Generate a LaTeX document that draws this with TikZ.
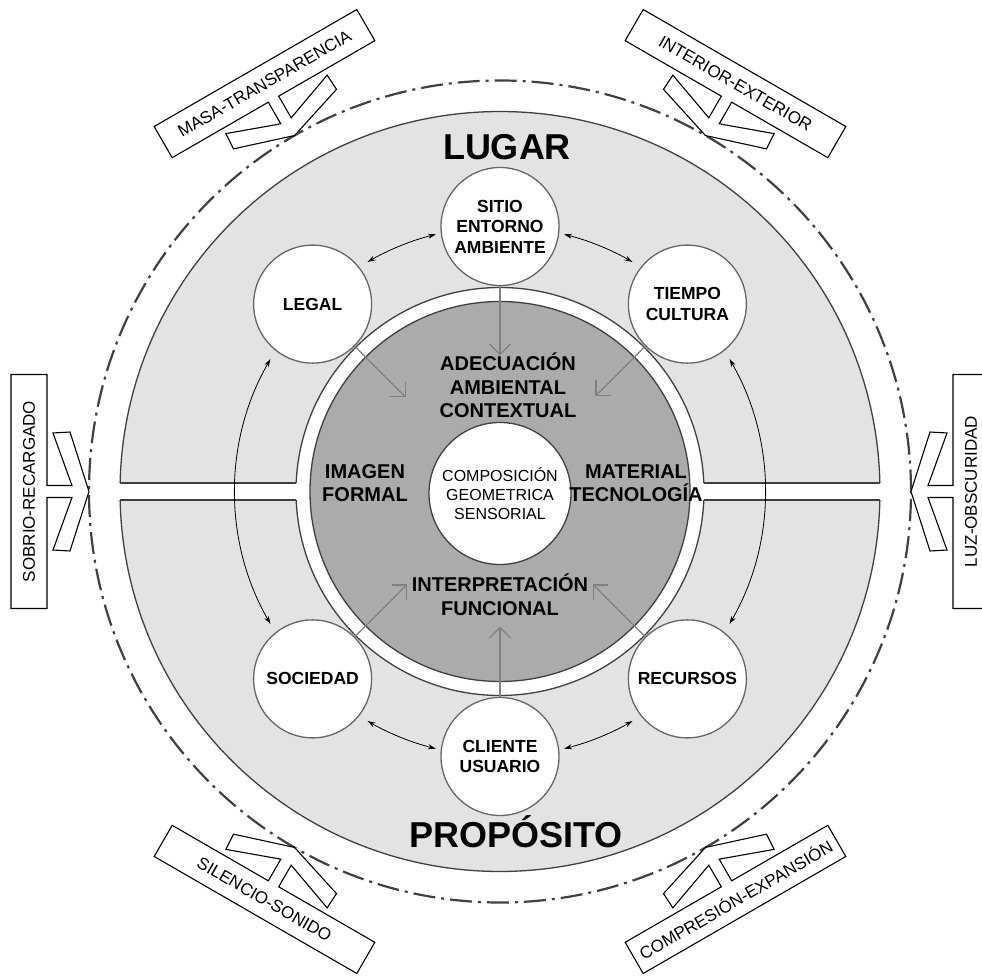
\documentclass[tikz,border=0pt]{standalone}
\usepackage{fontspec}
\setmainfont{Liberation Sans}
\usetikzlibrary{arrows.meta}
\definecolor{lightdisc}{gray}{0.89}
\definecolor{darkdisc}{gray}{0.67}
\definecolor{linecol}{gray}{0.25}
\definecolor{arrowgray}{gray}{0.5}
\definecolor{circline}{gray}{0.4}
\begin{document}
\begin{tikzpicture}[x=1pt,y=1pt,
  orbit/.style={circle, draw=circline, line width=1.3pt, fill=white, minimum size=118pt, inner sep=0pt, align=center, font=\fontsize{17.5}{20.5}\selectfont\bfseries},
  centertext/.style={align=center, font=\fontsize{20}{23.5}\selectfont\bfseries, inner sep=0pt, anchor=base},
  bigtext/.style={font=\fontsize{36}{40}\selectfont\bfseries, inner sep=0pt, anchor=base},
  labeltext/.style={font=\fontsize{17}{20}\selectfont, inner sep=0pt},
  labelshape/.style={draw=black, line width=1.1pt, fill=white, line join=miter},
  grayarrow/.style={draw=arrowgray, line width=1.4pt, -{Straight Barb[length=10.5pt,width=21pt]}},
  blackarrow/.style={draw=black, line width=0.8pt, {Stealth[length=8pt,width=5pt]}-{Stealth[length=8pt,width=5pt]}},
  ringline/.style={draw=linecol, line width=1.3pt},
]
\useasboundingbox (-500,-487.5) rectangle (482,491.5);
\clip (-500,-487.5) rectangle (482,491.5);

% dash-dot circle
\draw[linecol, line width=2.2pt, dash pattern=on 22pt off 6pt on 3pt off 6pt] (0,0) circle[radius=411];

% outer light disc
\fill[lightdisc] (0,0) circle[radius=380];
\draw[ringline] (1.28:380) arc[start angle=1.28, end angle=178.72, radius=380];
\draw[ringline] (181.28:380) arc[start angle=181.28, end angle=358.72, radius=380];

% horizontal band
\fill[white] (-385,-8.5) rectangle (385,8.5);
\draw[ringline] (-379.9,8.5) -- (-203.8,8.5);
\draw[ringline] (-379.9,-8.5) -- (-203.8,-8.5);
\draw[ringline] (379.9,8.5) -- (203.8,8.5);
\draw[ringline] (379.9,-8.5) -- (203.8,-8.5);

% white ring
\fill[white] (0,0) circle[radius=204];
\draw[ringline] (2.39:204) arc[start angle=2.39, end angle=177.61, radius=204];
\draw[ringline] (182.39:204) arc[start angle=182.39, end angle=357.61, radius=204];

% dark disc
\filldraw[fill=darkdisc, ringline] (0,0) circle[radius=190];

% orbit circles
\node[orbit] (sitio) at (90:265) {SITIO\\ENTORNO\\AMBIENTE};
\node[orbit] (tiempo) at (45:265) {TIEMPO\\CULTURA};
\node[orbit] (legal) at (135:265) {LEGAL};
\node[orbit] (sociedad) at (225:265) {SOCIEDAD};
\node[orbit] (cliente) at (270:265) {CLIENTE\\USUARIO};
\node[orbit] (recursos) at (315:265) {RECURSOS};

% central circle
\node[circle, draw=linecol, line width=1.3pt, fill=white, minimum size=142pt, inner sep=0pt, align=center, font=\fontsize{16}{19}\selectfont] (comp) at (0,-2) {COMPOSICIÓN\\GEOMETRICA\\SENSORIAL};

% black double arcs
\coordinate (a1) at (104:265);
\draw[blackarrow] (a1) arc[start angle=104, end angle=120, radius=265];
\coordinate (a2) at (60:265);
\draw[blackarrow] (a2) arc[start angle=60, end angle=76, radius=265];
\coordinate (a3) at (150:265);
\draw[blackarrow] (a3) arc[start angle=150, end angle=210, radius=265];
\coordinate (a4) at (-30:265);
\draw[blackarrow] (a4) arc[start angle=-30, end angle=30, radius=265];
\coordinate (a5) at (240:265);
\draw[blackarrow] (a5) arc[start angle=240, end angle=256, radius=265];
\coordinate (a6) at (284:265);
\draw[blackarrow] (a6) arc[start angle=284, end angle=300, radius=265];

% gray arrows
\coordinate (tS) at (90:136);
\coordinate (tL) at (135:133);
\coordinate (tT) at (45:135);
\coordinate (tSo) at (225:131);
\coordinate (tR) at (315:131);
\coordinate (tC) at (270:135);
\draw[grayarrow] (sitio) -- (tS);
\draw[grayarrow] (legal) -- (tL);
\draw[grayarrow] (tiempo) -- (tT);
\draw[grayarrow] (sociedad) -- (tSo);
\draw[grayarrow] (recursos) -- (tR);
\draw[grayarrow] (cliente) -- (tC);

% central texts (anchor = baseline of last line)
\node[centertext] (adec) at (8,73.5) {ADECUACIÓN\\AMBIENTAL\\CONTEXTUAL};
\node[centertext] (imagen) at (-135,-10.5) {IMAGEN\\FORMAL};
\node[centertext] (material) at (136,-10.5) {MATERIAL\\TECNOLOGÍA};
\node[centertext] (interp) at (0,-123.5) {INTERPRETACIÓN\\FUNCIONAL};

% big titles
\node[bigtext] (lugar) at (7,331.5) {LUGAR};
\node[bigtext] (proposito) at (16,-355.5) {PROPÓSITO};

% outer labels with chevrons
\foreach \th/\rt/\tx/\nm in {120/30/MASA-TRANSPARENCIA/lab1, 60/-30/INTERIOR-EXTERIOR/lab2, 180/90/SOBRIO-RECARGADO/lab3, 0/90/LUZ-OBSCURIDAD/lab4, 240/-30/SILENCIO-SONIDO/lab5, 300/30/COMPRESIÓN-EXPANSIÓN/lab6}{
  \begin{scope}[shift={(\th:471)}, rotate=\th+180]
    \draw[labelshape] (-18,-117) -- (18,-117) -- (18,-6) -- (43,-6) -- (24,-58.5) -- (41,-59.5) -- (60,0) -- (41,59.5) -- (24,58.5) -- (43,6) -- (18,6) -- (18,117) -- (-18,117) -- cycle;
  \end{scope}
  \node[labeltext, rotate=\rt] (\nm) at (\th:471) {\tx};
}
\end{tikzpicture}
\end{document}
